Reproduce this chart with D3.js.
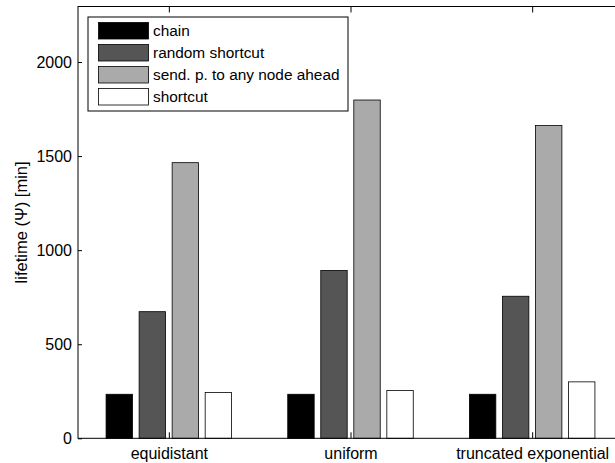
<!DOCTYPE html>
<html>
<head>
<meta charset="utf-8">
<script src="https://cdn.jsdelivr.net/npm/d3@7"></script>
<style>
  body { margin: 0; background: #fff; }
  text { font-family: "Liberation Sans", Arial, sans-serif; }
</style>
</head>
<body>
<svg id="chart" width="615" height="463"></svg>
<script>
// data
const groups = ["equidistant", "uniform", "truncated exponential"];
const seriesNames = ["chain", "random shortcut", "send. p. to any node ahead", "shortcut"];
const seriesColors = ["#000000", "#555555", "#aaaaaa", "#ffffff"];
const chain = [234, 234, 234];
const randomShortcut = [673, 892, 755];
const sendAhead = [1465, 1798, 1662];
const shortcut = [243, 254, 300];
const yTicks = [0, 500, 1000, 1500, 2000];

const series = [chain, randomShortcut, sendAhead, shortcut];

const svg = d3.select("#chart");

// plot area (right side runs off the picture, like the original)
const mLeft = 78, mRight = 623, mTop = 6.5, mBottom = 438.3;

const x = d3.scaleLinear().domain([0.5, 3.5]).range([mLeft, mRight]);
const y = d3.scaleLinear().domain([0, 2295]).range([mBottom, mTop]);

// matlab style grouped bars
const nb = series.length;
const groupWidth = Math.min(0.8, nb / (nb + 1.5));
const slot = groupWidth / nb;
const barW = slot * 0.8;

const plot = svg.append("g");

series.forEach((vals, si) => {
  plot.selectAll(".bar" + si)
    .data(vals)
    .enter().append("rect")
    .attr("x", (d, gi) => x(gi + 1 - groupWidth / 2 + slot * si + (slot - barW) / 2))
    .attr("width", x(barW) - x(0))
    .attr("y", d => y(d))
    .attr("height", d => y(0) - y(d))
    .attr("fill", seriesColors[si])
    .attr("stroke", "#000")
    .attr("stroke-width", 0.8);
});

// axes box
svg.append("rect")
  .attr("x", mLeft).attr("y", mTop)
  .attr("width", mRight - mLeft).attr("height", mBottom - mTop)
  .attr("fill", "none").attr("stroke", "#000").attr("stroke-width", 1);

// y axis, ticks inward
const yAxis = d3.axisLeft(y).tickValues(yTicks).tickFormat(d3.format("d"))
  .tickSizeInner(-4).tickSizeOuter(0).tickPadding(6);
const gy = svg.append("g").attr("transform", `translate(${mLeft},0)`).call(yAxis);
gy.select(".domain").remove();
gy.selectAll("text").attr("font-size", 16).attr("fill", "#000")
  .attr("font-family", "Liberation Sans, Arial, sans-serif");
gy.selectAll("line").attr("stroke", "#000");

// x axis bottom + top ticks
const xAxis = d3.axisBottom(x).tickValues([1, 2, 3]).tickFormat((d, i) => groups[i])
  .tickSizeInner(-6).tickSizeOuter(0).tickPadding(9);
const gx = svg.append("g").attr("transform", `translate(0,${mBottom})`).call(xAxis);
gx.select(".domain").remove();
gx.selectAll("text").attr("font-size", 16).attr("fill", "#000")
  .attr("font-family", "Liberation Sans, Arial, sans-serif");
gx.selectAll("line").attr("stroke", "#000");

const gxTop = svg.append("g").attr("transform", `translate(0,${mTop})`)
  .call(d3.axisTop(x).tickValues([1, 2, 3]).tickFormat("").tickSizeInner(-6).tickSizeOuter(0));
gxTop.select(".domain").remove();
gxTop.selectAll("line").attr("stroke", "#000");

// y label
svg.append("text")
  .attr("transform", `translate(27,${(mTop + mBottom) / 2}) rotate(-90)`)
  .attr("text-anchor", "middle")
  .attr("font-size", 16.5)
  .text("lifetime (\u03A8) [min]");

// legend
const lg = svg.append("g").attr("transform", "translate(88,17)");
lg.append("rect").attr("width", 260).attr("height", 94)
  .attr("fill", "#fff").attr("stroke", "#000").attr("stroke-width", 1);
seriesNames.forEach((name, i) => {
  lg.append("rect")
    .attr("x", 10.5).attr("y", 5.5 + i * 22)
    .attr("width", 50).attr("height", 16.5)
    .attr("fill", seriesColors[i]).attr("stroke", "#000").attr("stroke-width", 0.8);
  lg.append("text")
    .attr("x", 65).attr("y", 14 + i * 22)
    .attr("dy", "0.35em")
    .attr("font-size", 15.4)
    .text(name);
});
</script>
</body>
</html>
